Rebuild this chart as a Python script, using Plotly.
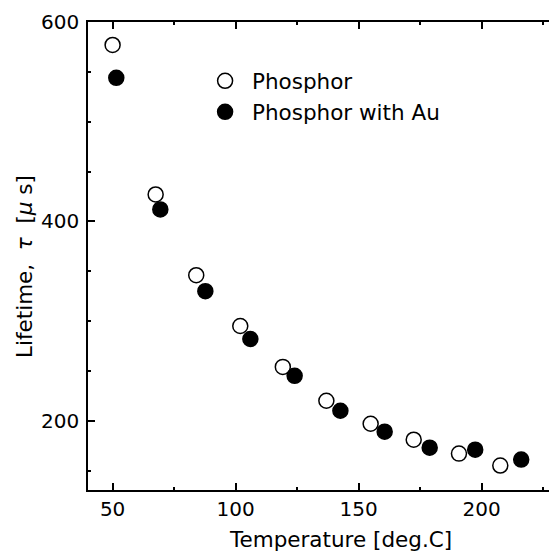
import plotly.graph_objects as go

# Data
temp_phosphor = [50.0, 67.5, 84.0, 101.9, 119.2, 136.9, 154.9, 172.4, 190.8, 207.6]
life_phosphor = [577, 427, 346, 295, 254, 220, 197, 181, 167, 155]
temp_au = [51.5, 69.4, 87.7, 106.0, 124.0, 142.6, 160.6, 178.9, 197.4, 216.1]
life_au = [544, 412, 330, 282, 245, 210, 189, 173, 171, 161]

FONT = "DejaVu Sans, sans-serif"
TXT = 21.5

fig = go.Figure()
fig.add_trace(go.Scatter(
    x=temp_phosphor, y=life_phosphor, mode="markers", name=" Phosphor",
    marker=dict(symbol="circle", size=15, color="white",
                line=dict(color="black", width=1.5))))
fig.add_trace(go.Scatter(
    x=temp_au, y=life_au, mode="markers", name=" Phosphor with Au",
    marker=dict(symbol="circle", size=15, color="black",
                line=dict(color="black", width=1.5))))

axis_common = dict(
    showgrid=False, zeroline=False, showline=True, linecolor="black",
    linewidth=1.5, ticks="inside", tickcolor="black", tickwidth=1.5,
    ticklen=7, tickfont=dict(family=FONT, size=20, color="black"),
)

fig.update_xaxes(range=[40, 227.4], dtick=50, tick0=0, mirror="ticks",
                 minor=dict(dtick=25, tick0=0, ticks="inside", ticklen=3,
                            tickcolor="black", tickwidth=1.5),
                 ticklabelstandoff=0, **axis_common)
fig.update_yaxes(range=[130.5, 600], dtick=200, tick0=0, mirror=False,
                 minor=dict(dtick=50, tick0=0, ticks="inside", ticklen=3,
                            tickcolor="black", tickwidth=1.5),
                 ticklabelstandoff=3, **axis_common)

fig.update_layout(
    width=549, height=551,
    margin=dict(l=88, r=0, t=22, b=61),
    plot_bgcolor="white", paper_bgcolor="white",
    font=dict(family=FONT, size=TXT, color="black"),
    legend=dict(x=0.254, y=0.918, xanchor="left", yanchor="top",
                bgcolor="rgba(0,0,0,0)", font=dict(family=FONT, size=TXT),
                itemsizing="trace"),
    annotations=[
        dict(text="Temperature [deg.C]", xref="paper", yref="paper",
             x=(340 - 88) / 461, y=-(539 - 490) / 468, xanchor="center",
             yanchor="middle", showarrow=False,
             font=dict(family=FONT, size=TXT, color="black")),
        dict(text="Lifetime,  <i>τ</i>  [<i>μ</i> s]", xref="paper", yref="paper",
             x=-(88 - 24) / 461, y=1 - (267 - 22) / 468, xanchor="center",
             yanchor="middle", textangle=-90, showarrow=False,
             font=dict(family=FONT, size=TXT, color="black")),
    ],
)

fig.write_html("out.html")
